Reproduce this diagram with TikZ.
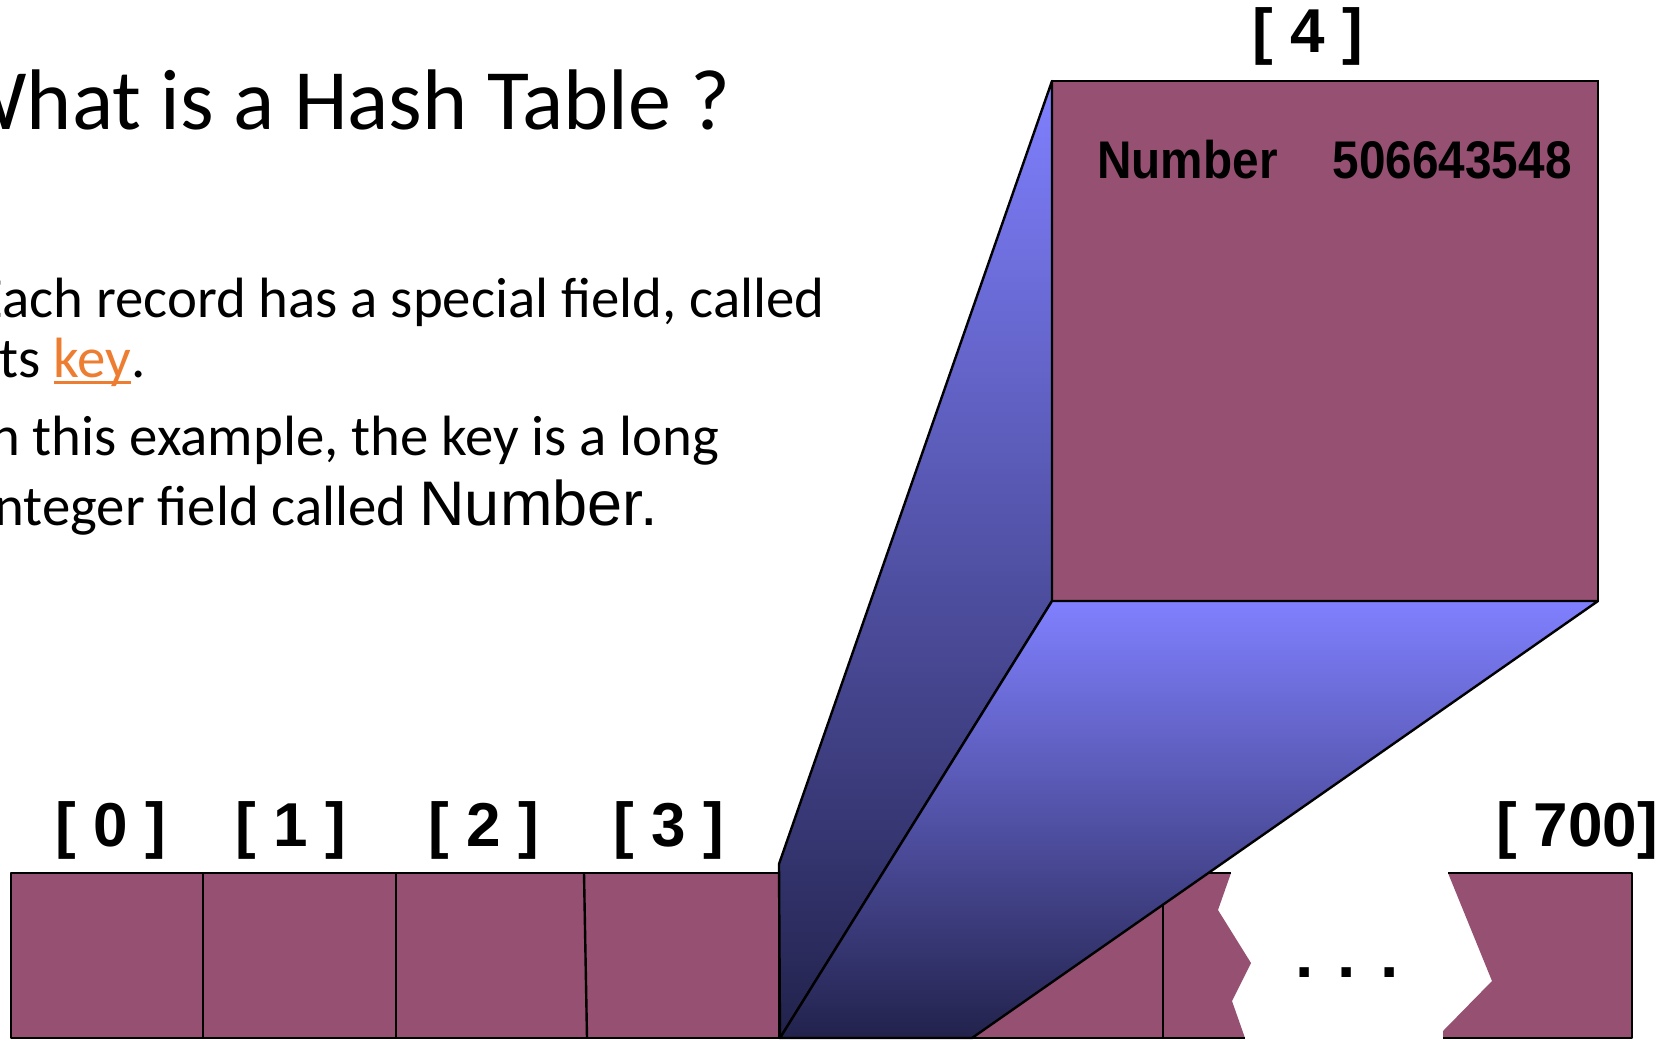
\documentclass[tikz,border=0pt]{standalone}
\usepackage{fontspec}
\setmainfont{Carlito}
\newfontfamily\arialfont{Liberation Sans}
\newfontfamily\narrowfont[FakeStretch=0.9]{Liberation Sans}
\usetikzlibrary{positioning}

\definecolor{cellfill}{RGB}{150,80,114}
\definecolor{funlight}{RGB}{128,128,255}
\definecolor{funmid}{RGB}{102,102,212}
\definecolor{fundark}{RGB}{34,34,76}
\definecolor{keyorange}{RGB}{237,125,49}

% underline that crosses the descender, as a hyperlink does
\newcommand{\linkword}[1]{\setbox0\hbox{#1}\rlap{\rule[-3.6pt]{\wd0}{1.4pt}}#1}

\begin{document}
\begin{tikzpicture}[
    x=0.5pt, y=-0.5pt,
    edge/.style={line width=1.2pt, line join=round},
    recbox/.style={rectangle, draw, fill=cellfill, line width=1.2pt, outer sep=0pt, inner sep=0pt},
    idx/.style={font=\arialfont\bfseries\fontsize{31}{36}\selectfont, inner sep=0pt, anchor=base},
    body/.style={font=\fontsize{28.4}{35}\selectfont, inner sep=0pt, anchor=base east},
    fun/.style={top color=funlight, middle color=funmid, bottom color=fundark, draw=black, line width=1.2pt, line join=round},
    rectxt/.style={font=\narrowfont\bfseries\fontsize{26.5}{32}\selectfont, inner sep=0pt}
]
    \useasboundingbox (0,0) rectangle (1672,1040);
    \clip (0,0) rectangle (1672,1040);

    % --- Slide text ---
    \node[font=\fontsize{43}{52}\selectfont, inner sep=0pt, anchor=base east] (title) at (731,129) {What is a Hash Table ?};
    \node[body] (line1) at (825,317) {Each record has a special field, called};
    \node[body] (line2) at (146,377) {its \textcolor{keyorange}{\linkword{key}}.};
    \node[body] (line3) at (720,455) {In this example, the key is a long};
    \node[body] (line4) at (658,525) {integer field called {\arialfont\fontsize{31.5}{38}\selectfont Number.}};

    % --- Table cells [0] .. [5] (right side torn off) ---
    \fill[cellfill] (11,873) -- (1231,873) -- (1218,910) -- (1251,963) -- (1232,1001) -- (1245,1038) -- (11,1038) -- cycle;
    \draw[edge] (1231,873) -- (11,873) -- (11,1038) -- (1245,1038);
    \draw[edge] (203,873) -- (203,1038);
    \draw[edge] (396,873) -- (396,1038);
    \draw[edge] (584,873) -- (587,1038);
    \draw[edge] (779,873) -- (779,1038);
    \draw[edge] (1163,873) -- (1163,1038);

    % --- Last cell [700] ---
    \fill[cellfill] (1448,873) -- (1632,873) -- (1632,1038) -- (1443,1038) -- (1443,1031) -- (1492,981) -- cycle;
    \draw[edge] (1448,873) -- (1632,873) -- (1632,1038) -- (1443,1038);

    % --- Index labels ---
    \node[idx] (idx0) at (111,846) {[ 0 ]};
    \node[idx] (idx1) at (291,846) {[ 1 ]};
    \node[idx] (idx2) at (484,846) {[ 2 ]};
    \node[idx] (idx3) at (669,846) {[ 3 ]};
    \node[idx] (idx700) at (1577,846) {[ 700]};
    \node[idx, font=\arialfont\bfseries\fontsize{33}{36}\selectfont] (dots) at (1347,977) {. . .};

    % --- Record [4], blown up ---
    \node[recbox, minimum width=273pt, minimum height=260pt] (rec) at (1325,341) {};
    \node[idx, anchor=south, above=7.5pt of rec.north, xshift=-8.5pt] (idx4) {[ 4 ]};
    \node[rectxt, anchor=base west] (numlbl) at (1097,178) {Number};
    \node[rectxt, anchor=base east] (numval) at (1572,178) {506643548};

    % --- Funnel from cell [4] up to the record ---
    \coordinate (apex) at (779,864);
    \coordinate (foot) at (780,1038);
    \coordinate (tip) at (972,1038);
    \shadedraw[fun] (apex) -- (rec.north west) -- (rec.south west) -- (foot) -- cycle;
    \shadedraw[fun] (foot) -- (rec.south west) -- (rec.south east) -- (tip) -- cycle;
\end{tikzpicture}
\end{document}
